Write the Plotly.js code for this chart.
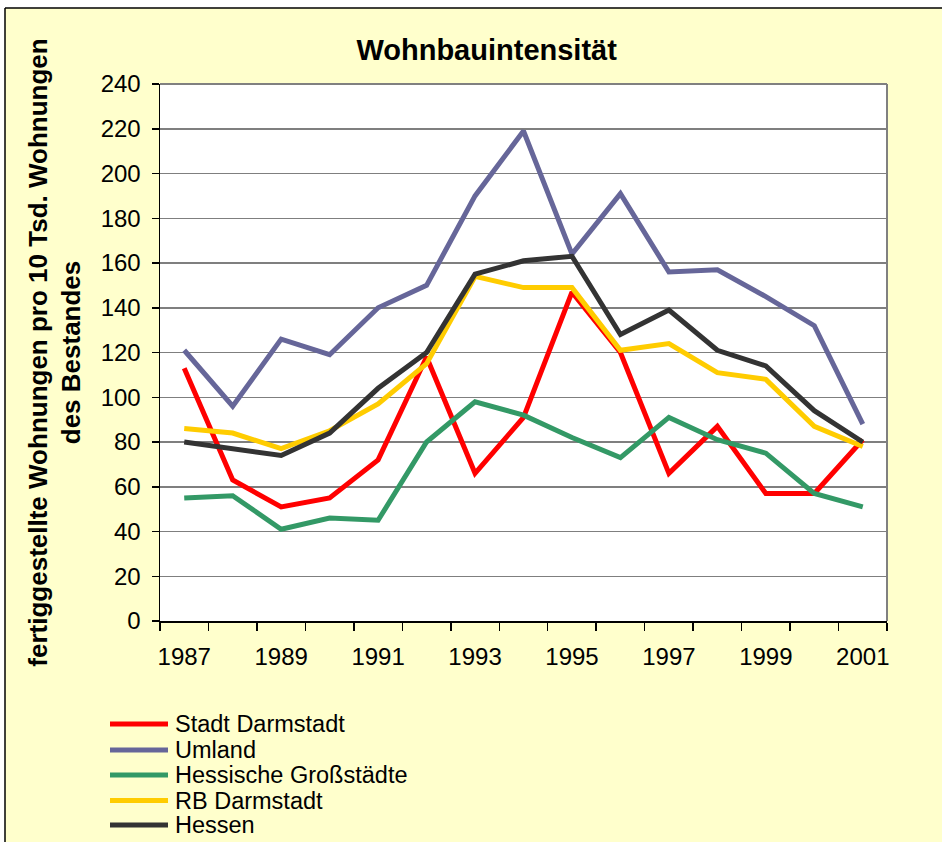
<!DOCTYPE html>
<html>
<head>
<meta charset="utf-8">
<script src="https://cdn.plot.ly/plotly-3.0.1.min.js"></script>
<style>html,body{margin:0;padding:0;background:#fff;}#chart{width:942px;height:842px;}</style>
</head>
<body>
<div id="chart"></div>
<script>
const years = [1987,1988,1989,1990,1991,1992,1993,1994,1995,1996,1997,1998,1999,2000,2001];
const tickYears = [1987,1989,1991,1993,1995,1997,1999,2001];
const seriesNames = ["Stadt Darmstadt","Umland","Hessische Großstädte","RB Darmstadt","Hessen"];
const seriesColors = ["#FF0000","#666699","#339966","#FFCC00","#333333"];
const stadtDarmstadt = [113,63,51,55,72,118,66,91,147,120,66,87,57,57,81];
const umland = [121,96,126,119,140,150,190,219,164,191,156,157,145,132,88];
const hessGrossstaedte = [55,56,41,46,45,80,98,92,82,73,91,81,75,57,51];
const rbDarmstadt = [86,84,77,85,97,115,154,149,149,121,124,111,108,87,78];
const hessen = [80,77,74,84,104,120,155,161,163,128,139,121,114,94,80];
const seriesValues = [stadtDarmstadt, umland, hessGrossstaedte, rbDarmstadt, hessen];

const W = 942, H = 842;
const M = {l:160, r:55, t:84, b:221};
const pw = W - M.l - M.r, ph = H - M.t - M.b;
const px = x => (x - M.l) / pw;
const py = y => (H - M.b - y) / ph;

const traces = seriesNames.map((n, i) => ({
  type: 'scatter', mode: 'lines', name: n,
  x: years, y: seriesValues[i],
  line: {color: seriesColors[i], width: 5},
  showlegend: false, hoverinfo: 'skip'
}));

const shapes = [
  {type:'rect', xref:'paper', yref:'paper', x0:px(-5), x1:px(W+5), y0:py(8), y1:py(-5), fillcolor:'#FFFFFF', line:{width:0}, layer:'above'},
  {type:'rect', xref:'paper', yref:'paper', x0:px(-5), x1:px(5), y0:py(H+5), y1:py(-5), fillcolor:'#FFFFFF', line:{width:0}, layer:'above'},
  {type:'line', xref:'paper', yref:'paper', x0:px(5), x1:px(W+5), y0:py(8), y1:py(8), line:{color:'#000000', width:1.5}},
  {type:'line', xref:'paper', yref:'paper', x0:px(5), x1:px(5), y0:py(8), y1:py(H+5), line:{color:'#000000', width:1.5}},
  {type:'line', xref:'paper', yref:'paper', x0:0, x1:1, y0:1, y1:1, line:{color:'#808080', width:2}},
  {type:'line', xref:'paper', yref:'paper', x0:1, x1:1, y0:0, y1:1, line:{color:'#808080', width:2}}
];

const annotations = [];
const legendRows = [724, 750, 775, 800.5, 825];
seriesNames.forEach((n, i) => {
  shapes.push({type:'line', xref:'paper', yref:'paper', x0:px(110), x1:px(168), y0:py(legendRows[i]), y1:py(legendRows[i]),
    line:{color:seriesColors[i], width:5}});
  annotations.push({xref:'paper', yref:'paper', x:px(173), y:py(legendRows[i]), xanchor:'left', yanchor:'middle',
    text:n, showarrow:false, font:{family:'Liberation Sans, Arial, sans-serif', size:23.5, color:'#000000'}});
});

const layout = {
  width: W, height: H,
  margin: M,
  paper_bgcolor: '#FFFFCC',
  plot_bgcolor: '#FFFFFF',
  font: {family:'Liberation Sans, Arial, sans-serif', color:'#000000'},
  title: {text:'<b>Wohnbauintensität</b>', x:0.5166, xref:'container', xanchor:'center', y:1-50/H, yref:'container', yanchor:'middle',
    font:{family:'Liberation Sans, Arial, sans-serif', size:29, color:'#000000'}},
  xaxis: {
    range:[1986.5, 2001.5], tickmode:'array', tickvals:tickYears, ticktext:tickYears.map(String),
    ticks:'', showgrid:false, zeroline:false, showline:true, linecolor:'#000000', linewidth:1.5,
    tickfont:{size:24, color:'#000000'}, ticklabelstandoff:14,
    minor:{tickmode:'linear', tick0:1986.5, dtick:1, ticks:'outside', ticklen:8, tickwidth:1.5, tickcolor:'#000000', showgrid:false},
    fixedrange:true
  },
  yaxis: {
    range:[0, 240], tickmode:'linear', tick0:0, dtick:20,
    ticks:'outside', ticklen:7, tickwidth:1.5, tickcolor:'#000000',
    showgrid:true, gridcolor:'#7F7F7F', gridwidth:1.5, zeroline:false,
    showline:true, linecolor:'#000000', linewidth:1.5,
    tickfont:{size:24, color:'#000000'}, ticklabelstandoff:6,
    title:{text:'<b>fertiggestellte Wohnungen pro 10 Tsd. Wohnungen<br>des Bestandes</b>', standoff:12,
      font:{size:26, color:'#000000'}},
    fixedrange:true
  },
  shapes: shapes,
  annotations: annotations
};

Plotly.newPlot('chart', traces, layout, {displayModeBar:false, staticPlot:true});
</script>
</body>
</html>
